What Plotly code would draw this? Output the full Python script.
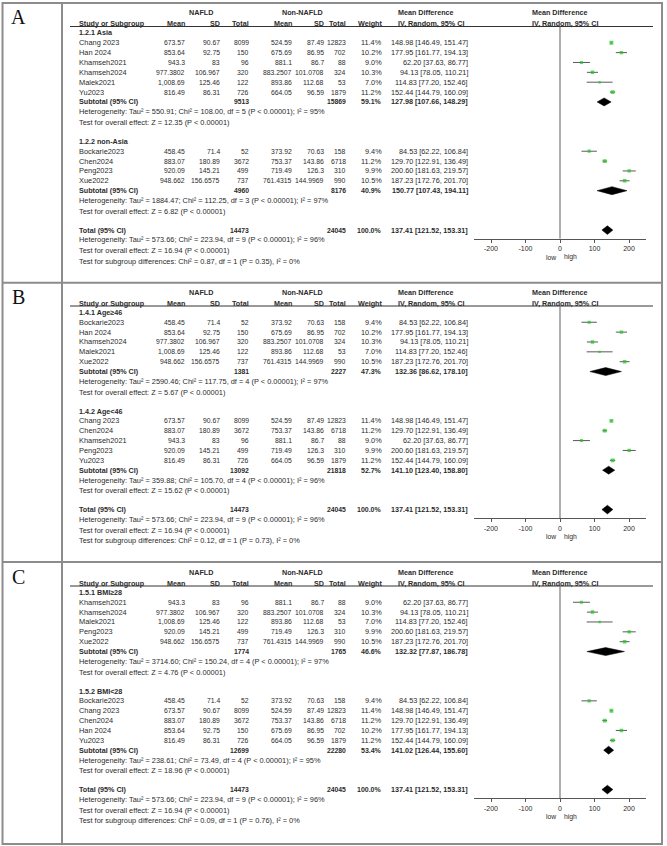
import plotly.graph_objects as go

W, H = 667, 846

# ---------------- data ----------------
studies = ["Chang 2023", "Han 2024", "Khamseh2021", "Khamseh2024", "Malek2021",
           "Yu2023", "Bockarie2023", "Chen2024", "Peng2023", "Xue2022"]
nafld_mean = ["673.57", "853.64", "943.3", "977.3802", "1,008.69",
              "816.49", "458.45", "883.07", "920.09", "948.662"]
nafld_sd = ["90.67", "92.75", "83", "106.967", "125.46",
            "86.31", "71.4", "180.89", "145.21", "156.6575"]
nafld_n = [8099, 150, 96, 320, 122, 726, 52, 3672, 499, 737]
non_mean = ["524.59", "675.69", "881.1", "883.2507", "893.86",
            "664.05", "373.92", "753.37", "719.49", "761.4315"]
non_sd = ["87.49", "86.95", "86.7", "101.0708", "112.68",
          "96.59", "70.63", "143.86", "126.3", "144.9969"]
non_n = [12823, 702, 88, 324, 53, 1879, 158, 6718, 310, 990]
weight = [11.4, 10.2, 9.0, 10.3, 7.0, 11.2, 9.4, 11.2, 9.9, 10.5]
md = [148.98, 177.95, 62.20, 94.13, 114.83, 152.44, 84.53, 129.70, 200.60, 187.23]
ci_lo = [146.49, 161.77, 37.63, 78.05, 77.20, 144.79, 62.22, 122.91, 181.63, 172.76]
ci_hi = [151.47, 194.13, 86.77, 110.21, 152.46, 160.09, 106.84, 136.49, 219.57, 201.70]

panel_letters = ["A", "B", "C"]
subgroup_titles = [["1.2.1 Asia", "1.2.2 non-Asia"],
                   ["1.4.1 Age≥46", "1.4.2 Age<46"],
                   ["1.5.1 BMI≥28", "1.5.2 BMI<28"]]
subgroup_members = [
    [["Chang 2023", "Han 2024", "Khamseh2021", "Khamseh2024", "Malek2021", "Yu2023"],
     ["Bockarie2023", "Chen2024", "Peng2023", "Xue2022"]],
    [["Bockarie2023", "Han 2024", "Khamseh2024", "Malek2021", "Xue2022"],
     ["Chang 2023", "Chen2024", "Khamseh2021", "Peng2023", "Yu2023"]],
    [["Khamseh2021", "Khamseh2024", "Malek2021", "Peng2023", "Xue2022"],
     ["Bockarie2023", "Chang 2023", "Chen2024", "Han 2024", "Yu2023"]],
]
sub_nafld_n = [[9513, 4960], [1381, 13092], [1774, 12699]]
sub_non_n = [[15869, 8176], [2227, 21818], [1765, 22280]]
sub_weight = [[59.1, 40.9], [47.3, 52.7], [46.6, 53.4]]
sub_md = [[127.98, 150.77], [132.36, 141.10], [132.32, 141.02]]
sub_lo = [[107.66, 107.43], [86.62, 123.40], [77.87, 126.44]]
sub_hi = [[148.29, 194.11], [178.10, 158.80], [186.78, 155.60]]
sub_het = [
    ["Tau² = 550.91; Chi² = 108.00, df = 5 (P < 0.00001); I² = 95%",
     "Tau² = 1884.47; Chi² = 112.25, df = 3 (P < 0.00001); I² = 97%"],
    ["Tau² = 2590.46; Chi² = 117.75, df = 4 (P < 0.00001); I² = 97%",
     "Tau² = 359.88; Chi² = 105.70, df = 4 (P < 0.00001); I² = 96%"],
    ["Tau² = 3714.60; Chi² = 150.24, df = 4 (P < 0.00001); I² = 97%",
     "Tau² = 238.61; Chi² = 73.49, df = 4 (P < 0.00001); I² = 95%"],
]
sub_z = [["12.35", "6.82"], ["5.67", "15.62"], ["4.76", "18.96"]]
total_nafld_n = 14473
total_non_n = 24045
total_weight = 100.0
total_md, total_lo, total_hi = 137.41, 121.52, 153.31
total_het = "Tau² = 573.66; Chi² = 223.94, df = 9 (P < 0.00001); I² = 96%"
total_z = "16.94"
subgroup_diff = ["Chi² = 0.87, df = 1 (P = 0.35), I² = 0%",
                 "Chi² = 0.12, df = 1 (P = 0.73), I² = 0%",
                 "Chi² = 0.09, df = 1 (P = 0.76), I² = 0%"]
x_ticks = [-200, -100, 0, 100, 200]

# ---------------- layout helpers ----------------
FF = "Liberation Sans, Arial, sans-serif"
FS = 7.2       # headers
FS_TXT = 7.4   # labels and notes
FS_NUM = 6.8   # mean / SD / total columns
FS_MD = 7.3    # weight / effect columns
TC = "#2b2b2b"
annotations = []
shapes = []


def T(x, y, s, anchor="left", bold=False, size=FS, family=FF, color=TC):
    annotations.append(dict(
        x=x / W, y=1 - y / H, xref="paper", yref="paper",
        text=f"<b>{s}</b>" if bold else s, showarrow=False,
        xanchor=anchor, yanchor="middle",
        font=dict(size=size, family=family, color=color)))


def row_y(i):
    return 32.9 + 9.86 * i


OFF = [0, 279.5, 559.5]
C_STUDY, C_NM, C_NSD, C_NN = 77, 187, 222, 251
C_CM, C_CSD, C_CN, C_W, C_MD = 294, 325.5, 347.5, 384, 470
Y_TOP, Y_AX = 26.5, 238.7
X0PX, X1PX = 473.75, 646.25

fig = go.Figure()
GREEN = "#22c322"
CI_COL = "#5a5a5a"

for p in range(3):
    o = OFF[p]
    s = "" if p == 0 else str(p + 1)
    xr, yr = "x" + s, "y" + s

    T(18, o + 17, panel_letters[p], "center", size=20,
      family="Liberation Serif, Times New Roman, serif", color="#111")
    # headers
    T(201, o + 12.5, "NAFLD", "center", True)
    T(302, o + 12.5, "Non-NAFLD", "center", True)
    T(425.5, o + 12.5, "Mean Difference", "center", True)
    T(560, o + 12.5, "Mean Difference", "center", True)
    T(C_STUDY, o + 23.5, "Study or Subgroup", "left", True)
    T(C_NM, o + 23.5, "Mean", "right", True)
    T(C_NSD, o + 23.5, "SD", "right", True)
    T(C_NN, o + 23.5, "Total", "right", True)
    T(C_CM, o + 23.5, "Mean", "right", True)
    T(C_CSD, o + 23.5, "SD", "right", True)
    T(C_CN, o + 23.5, "Total", "right", True)
    T(C_W, o + 23.5, "Weight", "right", True)
    T(431, o + 23.5, "IV, Random, 95% CI", "center", True)
    T(564.5, o + 23.5, "IV, Random, 95% CI", "center", True)
    shapes.append(dict(type="line", xref="paper", yref="paper",
                       x0=70 / W, x1=653 / W, y0=1 - (o + Y_TOP) / H, y1=1 - (o + Y_TOP) / H,
                       line=dict(color="#333", width=1)))

    pts_x, pts_y, pts_lo, pts_hi, pts_sz = [], [], [], [], []
    line = 0
    for g in range(2):
        T(C_STUDY, o + row_y(line), subgroup_titles[p][g], "left", True, size=FS)
        for name in subgroup_members[p][g]:
            line += 1
            i = studies.index(name)
            y = o + row_y(line)
            T(C_STUDY, y, name, size=FS_TXT)
            T(C_NM, y, nafld_mean[i], "right", size=FS_NUM)
            T(C_NSD, y, nafld_sd[i], "right", size=FS_NUM)
            T(C_NN, y, str(nafld_n[i]), "right", size=FS_NUM)
            T(C_CM, y, non_mean[i], "right", size=FS_NUM)
            T(C_CSD, y, non_sd[i], "right", size=FS_NUM)
            T(C_CN, y, str(non_n[i]), "right", size=FS_NUM)
            T(C_W, y, f"{weight[i]:.1f}%", "right", size=FS_MD)
            T(C_MD, y, f"{md[i]:.2f} [{ci_lo[i]:.2f}, {ci_hi[i]:.2f}]", "right", size=FS_MD)
            pts_x.append(md[i])
            pts_y.append(row_y(line))
            pts_lo.append(md[i] - ci_lo[i])
            pts_hi.append(ci_hi[i] - md[i])
            pts_sz.append(weight[i] * 0.34)
        line += 1
        y = o + row_y(line)
        T(C_STUDY, y, "Subtotal (95% CI)", "left", True, size=FS)
        T(C_NN, y, str(sub_nafld_n[p][g]), "right", True, size=FS_NUM)
        T(C_CN, y, str(sub_non_n[p][g]), "right", True, size=FS_NUM)
        T(C_W, y, f"{sub_weight[p][g]:.1f}%", "right", True, size=FS_NUM + 0.2)
        T(C_MD, y, f"{sub_md[p][g]:.2f} [{sub_lo[p][g]:.2f}, {sub_hi[p][g]:.2f}]", "right", True, size=FS)
        yc = row_y(line)
        fig.add_trace(go.Scatter(
            x=[sub_lo[p][g], sub_md[p][g], sub_hi[p][g], sub_md[p][g], sub_lo[p][g]],
            y=[yc, yc - 4, yc, yc + 4, yc], mode="lines", fill="toself",
            fillcolor="black", line=dict(color="black", width=0.5),
            xaxis=xr, yaxis=yr, showlegend=False, hoverinfo="skip"))
        line += 1
        T(C_STUDY, o + row_y(line), "Heterogeneity: " + sub_het[p][g], size=FS_TXT)
        line += 1
        T(C_STUDY, o + row_y(line) + 1, f"Test for overall effect: Z = {sub_z[p][g]} (P < 0.00001)", size=FS_TXT)
        line += 2

    fig.add_trace(go.Scatter(
        x=pts_x, y=pts_y, mode="markers",
        marker=dict(symbol="square", size=pts_sz, color=GREEN, line=dict(width=0)),
        error_x=dict(type="data", symmetric=False, array=pts_hi, arrayminus=pts_lo,
                     color=CI_COL, thickness=1, width=0),
        xaxis=xr, yaxis=yr, showlegend=False, hoverinfo="skip"))

    # total
    y = o + row_y(line)
    T(C_STUDY, y, "Total (95% CI)", "left", True, size=FS)
    T(C_NN, y, str(total_nafld_n), "right", True, size=FS_NUM)
    T(C_CN, y, str(total_non_n), "right", True, size=FS_NUM)
    T(C_W, y, f"{total_weight:.1f}%", "right", True, size=FS_NUM + 0.2)
    T(C_MD, y, f"{total_md:.2f} [{total_lo:.2f}, {total_hi:.2f}]", "right", True, size=FS)
    yc = row_y(line)
    fig.add_trace(go.Scatter(
        x=[total_lo, total_md, total_hi, total_md, total_lo],
        y=[yc, yc - 4.3, yc, yc + 4.3, yc], mode="lines", fill="toself",
        fillcolor="black", line=dict(color="black", width=0.5),
        xaxis=xr, yaxis=yr, showlegend=False, hoverinfo="skip"))
    T(C_STUDY, o + row_y(line + 1), "Heterogeneity: " + total_het, size=FS_TXT)
    T(C_STUDY, o + row_y(line + 2) + 1, f"Test for overall effect: Z = {total_z} (P < 0.00001)", size=FS_TXT)
    T(C_STUDY, o + row_y(line + 3) + 1.5, "Test for subgroup differences: " + subgroup_diff[p], size=FS_TXT)

    T(551, o + 257.3, "low", "center", size=6.8)
    T(570.5, o + 257.3, "high", "center", size=6.8)

    # zero line
    shapes.append(dict(type="line", xref=xr, yref=yr, x0=0, x1=0, y0=Y_TOP, y1=Y_AX,
                       line=dict(color="#7a7a7a", width=1.2)))

    fig.update_layout(**{
        "xaxis" + s: dict(domain=[X0PX / W, X1PX / W], range=[-250, 250], anchor=yr,
                          tickvals=x_ticks, ticktext=[str(v) for v in x_ticks],
                          showline=True, linecolor="#555", linewidth=1,
                          ticks="outside", ticklen=3, tickcolor="#555",
                          tickfont=dict(size=7, family=FF, color=TC),
                          showgrid=False, zeroline=False, fixedrange=True),
        "yaxis" + s: dict(domain=[1 - (o + Y_AX) / H, 1 - (o + Y_TOP) / H],
                          range=[Y_AX, Y_TOP], anchor=xr, visible=False,
                          showgrid=False, zeroline=False, fixedrange=True),
    })

# frame
BC = "#8c8c8c"
shapes.append(dict(type="rect", xref="paper", yref="paper",
                   x0=2.5 / W, x1=662 / W, y0=1 - 3 / H, y1=1 - 844 / H,
                   line=dict(color=BC, width=2)))
shapes.append(dict(type="line", xref="paper", yref="paper",
                   x0=62 / W, x1=62 / W, y0=1 - 3 / H, y1=1 - 844 / H,
                   line=dict(color=BC, width=2)))
for yy in [282.7, 562.0]:
    shapes.append(dict(type="line", xref="paper", yref="paper",
                       x0=2.5 / W, x1=662 / W, y0=1 - yy / H, y1=1 - yy / H,
                       line=dict(color=BC, width=2)))

fig.update_layout(width=W, height=H, margin=dict(l=0, r=0, t=0, b=0),
                  paper_bgcolor="white", plot_bgcolor="rgba(0,0,0,0)",
                  annotations=annotations, shapes=shapes, showlegend=False)

fig.write_html("out.html", config={"displayModeBar": False},
               post_script="document.body.style.margin='0';document.body.style.padding='0';document.body.style.overflow='hidden';")
